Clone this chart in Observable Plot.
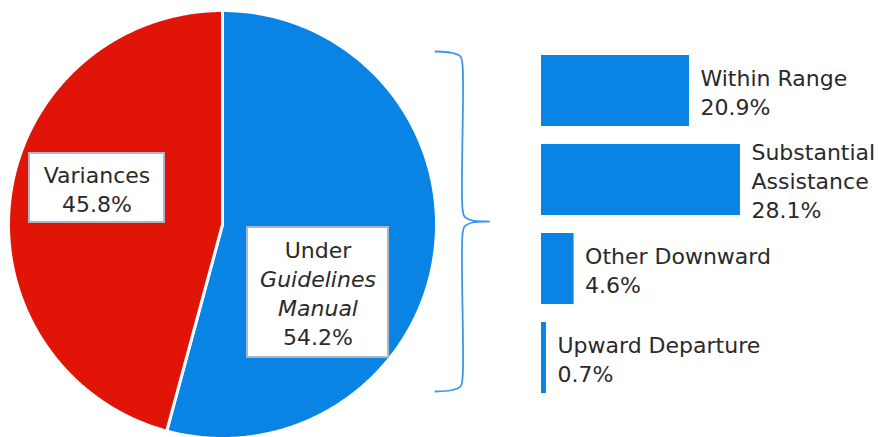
<!DOCTYPE html>
<html>
<head>
<meta charset="utf-8">
<script src="https://cdn.jsdelivr.net/npm/d3@7"></script>
<script src="https://cdn.jsdelivr.net/npm/@observablehq/plot@0.6"></script>
<style>
  html, body { margin: 0; padding: 0; background: white; }
  #wrap { position: relative; width: 879px; height: 437px; overflow: hidden; }
  #wrap svg { position: absolute; left: 0; top: 0; }
</style>
</head>
<body>
<div id="wrap"></div>
<script>
// ---- data ----
const pieNames = ["Under Guidelines Manual", "Variances"];
const pieValues = [54.2, 45.8];
const pieLabelLines = [["Under", "Guidelines", "Manual"], ["Variances"]];
const pieLabelItalic = [[false, true, true], [false]];

const barNames = ["Within Range", "Substantial Assistance", "Other Downward", "Upward Departure"];
const barValues = [20.9, 28.1, 4.6, 0.7];

// ---- styling / layout constants ----
const BLUE = "#0a84e4";
const RED = "#e01508";
const pieColors = [BLUE, RED];
const TEXT = "#2a2a2a";
const FONT = "DejaVu Sans";
const FS = 22;
const LH = 29;
const W = 879, H = 437;
const CX = 222, CY = 224, R = 214;
const ux = px => (px - CX) / R;
const uy = py => (CY - py) / R;
// label boxes [x1, x2, y1, y2] in px, one per slice
const pieBoxes = [[247, 388, 227, 357], [29, 164, 153, 222]];

// ---- pie geometry from data ----
const arcs = d3.pie().sort(null)(pieValues);
const slices = arcs.map(a => {
  const pts = [[0, 0]];
  const n = Math.ceil((a.endAngle - a.startAngle) / (Math.PI / 360));
  for (let k = 0; k <= n; k++) {
    const t = a.startAngle + (a.endAngle - a.startAngle) * k / n;
    pts.push([Math.sin(t), Math.cos(t)]);
  }
  pts.push([0, 0]);
  return pts;
});

const labelRows = [];
pieNames.forEach((name, i) => {
  const lines = pieLabelLines[i].concat([pieValues[i].toFixed(1) + "%"]);
  const italic = pieLabelItalic[i].concat([false]);
  const b = pieBoxes[i];
  const cx = (b[0] + b[1]) / 2, cy = (b[2] + b[3]) / 2 + 2;
  lines.forEach((t, j) => {
    labelRows.push({x: ux(cx), y: uy(cy + (j - (lines.length - 1) / 2) * LH), text: t, italic: italic[j]});
  });
});

// brace (decoration), px coordinates
const bracePx = [[435, 51], [452, 52.5], [460, 56], [462, 64], [462, 208], [464, 216], [472, 220], [489, 221],
                 [472, 222], [464, 226], [462, 234], [462, 378], [460, 386], [452, 389.5], [435, 391]];

const pie = Plot.plot({
  width: W, height: H, margin: 0,
  style: {fontFamily: FONT, background: "white"},
  x: {domain: [ux(0), ux(W)], axis: null},
  y: {domain: [uy(H), uy(0)], axis: null},
  marks: [
    ...slices.map((pts, i) => Plot.line(pts, {x: d => d[0], y: d => d[1], fill: pieColors[i], stroke: "white", strokeWidth: 3, strokeLinejoin: "round"})),
    Plot.rect(pieBoxes, {x1: d => ux(d[0]), x2: d => ux(d[1]), y1: d => uy(d[2]), y2: d => uy(d[3]), fill: "white", stroke: "#aeb6c4", strokeWidth: 2}),
    Plot.text(labelRows.filter(d => !d.italic), {x: "x", y: "y", text: "text", fontSize: FS, fill: TEXT, textAnchor: "middle", lineAnchor: "middle"}),
    Plot.text(labelRows.filter(d => d.italic), {x: "x", y: "y", text: "text", fontSize: FS, fill: TEXT, textAnchor: "middle", lineAnchor: "middle", fontStyle: "italic"}),
    Plot.line(bracePx, {x: d => ux(d[0]), y: d => uy(d[1]), stroke: "#3a98ec", strokeWidth: 1.8, curve: "catmull-rom"})
  ]
});

const PXPCT = 7.08;
const barData = barNames.map((name, i) => ({name, value: barValues[i]}));
const bars = Plot.plot({
  width: W, height: H, margin: 0,
  style: {fontFamily: FONT, background: "transparent"},
  x: {domain: [0, (W - 541) / PXPCT], range: [541, W], axis: null},
  y: {type: "band", domain: barNames, range: [54, 394], paddingInner: 0.205, paddingOuter: 0, axis: null},
  marks: [
    Plot.barX(barData, {x: "value", y: "name", fill: BLUE}),
    Plot.text(barData, {x: "value", y: "name", text: d => d.name.replace("Substantial ", "Substantial\n") + "\n" + d.value.toFixed(1) + "%",
      dx: 11, textAnchor: "start", lineAnchor: "middle", lineHeight: LH / FS, fontSize: FS, fill: TEXT})
  ]
});

document.getElementById("wrap").append(pie, bars);
</script>
</body>
</html>
